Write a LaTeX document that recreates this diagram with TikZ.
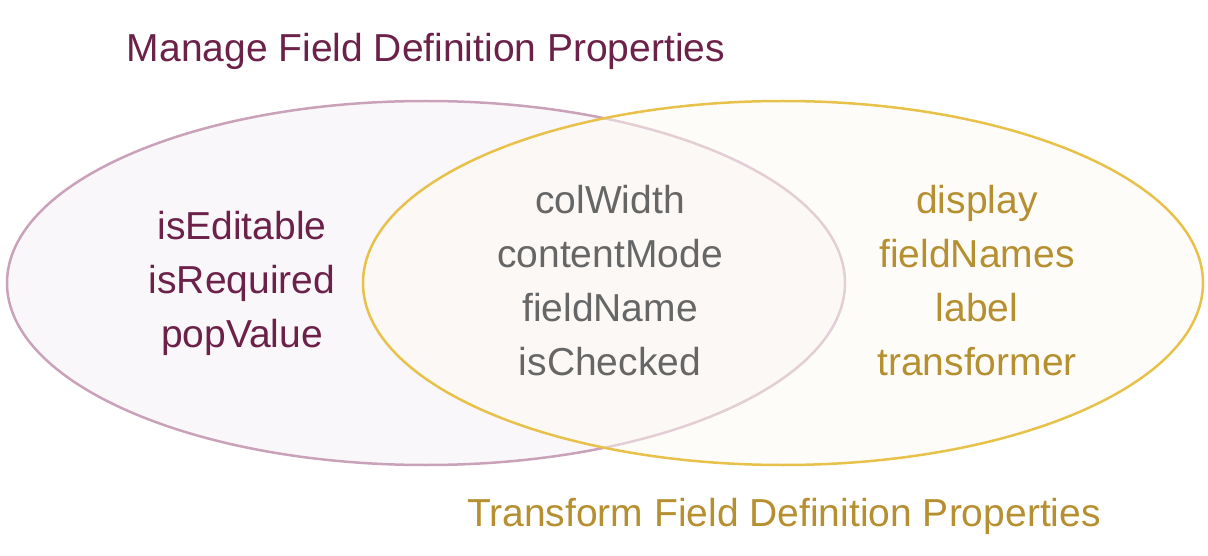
\documentclass[tikz,border=0pt]{standalone}
\usepackage{fontspec}
\setmainfont{Liberation Sans}
\definecolor{plum}{HTML}{6B2148}
\definecolor{plumline}{HTML}{C9A2BA}
\definecolor{plumfill}{HTML}{F9F7FA}
\definecolor{gold}{HTML}{B58F30}
\definecolor{goldline}{HTML}{E8C14B}
\definecolor{goldfill}{HTML}{FEFAF2}
\definecolor{midgray}{HTML}{666666}

\begin{document}
\begin{tikzpicture}[x=1pt, y=-1pt,
    every node/.style={font=\fontsize{39}{54}\selectfont, align=center, inner sep=0pt},
    set/.style={line width=2.5pt}]
    \useasboundingbox (0, 0) rectangle (1208, 556);
    \draw [set, draw=plumline, fill=plumfill] (426, 283) ellipse [x radius=419, y radius=182];
    \fill [goldfill, fill opacity=.5] (783, 283) ellipse [x radius=420, y radius=182];
    \draw [set, draw=goldline] (783, 283) ellipse [x radius=420, y radius=182];
    \node [text=plum] (manage) at (426, 51) {Manage Field Definition Properties};
    \node [text=gold] (transform) at (784, 516) {Transform Field Definition Properties};
    \node [text=plum] (left) at (242, 283) {isEditable\\isRequired\\popValue};
    \node [text=midgray] (both) at (610, 281) {colWidth\\contentMode\\fieldName\\isChecked};
    \node [text=gold] (right) at (977, 281) {display\\fieldNames\\label\\transformer};
  \end{tikzpicture}
\end{document}
